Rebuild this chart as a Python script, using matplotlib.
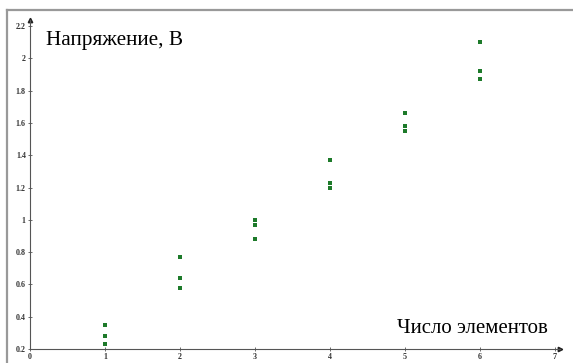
import matplotlib.pyplot as plt
from matplotlib.lines import Line2D

# number of elements and measured voltages (three measurements each)
elements = [1, 2, 3, 4, 5, 6]
voltage_a = [0.35, 0.77, 1.00, 1.37, 1.66, 2.10]
voltage_b = [0.28, 0.64, 0.97, 1.23, 1.58, 1.92]
voltage_c = [0.23, 0.58, 0.88, 1.20, 1.55, 1.87]

x_ticks = [0, 1, 2, 3, 4, 5, 6, 7]
y_ticks = [0.2, 0.4, 0.6, 0.8, 1.0, 1.2, 1.4, 1.6, 1.8, 2.0, 2.2]
y_labels = ['0.2', '0.4', '0.6', '0.8', '1', '1.2', '1.4', '1.6', '1.8', '2', '2.2']

green = '#1d7a2a'

fig = plt.figure(figsize=(5.73, 3.63), dpi=100)
ax = fig.add_axes([0, 0, 1, 1])
ax.set_xlim(-30 / 75, 543 / 75)
ax.set_ylim(0.2 - 14 / 161.5, 0.2 + 349 / 161.5)

for vals in (voltage_a, voltage_b, voltage_c):
    ax.plot(elements, vals, 's', color=green, markersize=2.6, markeredgewidth=0)

# axes through (0, 0.2) like the original drawing
for side in ('top', 'right'):
    ax.spines[side].set_visible(False)
ax.spines['left'].set_position(('data', 0))
ax.spines['bottom'].set_position(('data', 0.2))
ax.spines['left'].set_bounds(0.2, 2.24)
ax.spines['bottom'].set_bounds(0, 7.06)
for s in ('left', 'bottom'):
    ax.spines[s].set_color('#555555')
    ax.spines[s].set_linewidth(0.8)
ax.plot(7.06, 0.2, '>', color='#222222', markersize=3.2, clip_on=False)
ax.plot(0, 2.24, '^', color='#222222', markersize=3.2, clip_on=False)

ax.set_xticks(x_ticks)
ax.set_yticks(y_ticks)
ax.set_xticklabels([str(t) for t in x_ticks])
ax.set_yticklabels(y_labels)
ax.tick_params(direction='inout', length=3, width=0.6, color='#555555', pad=1.5)
for lab in ax.get_xticklabels() + ax.get_yticklabels():
    lab.set_fontfamily('Liberation Serif')
    lab.set_fontweight('bold')
    lab.set_fontsize(5.8)
    lab.set_color('#333333')

ax.text(0.22, 2.11, 'Напряжение, В', fontfamily='Liberation Serif',
        fontsize=15.3, va='center', ha='left')
ax.text(6.9, 0.33, 'Число элементов', fontfamily='Liberation Serif',
        fontsize=15, va='center', ha='right')

# gray frame on the top and left edges
fig.add_artist(Line2D([7 / 573, 1], [1 - 10 / 363, 1 - 10 / 363],
                      transform=fig.transFigure, color='#999999', lw=1.6))
fig.add_artist(Line2D([7 / 573, 7 / 573], [0, 1 - 10 / 363],
                      transform=fig.transFigure, color='#999999', lw=1.6))

fig.savefig('out.png', dpi=100)
